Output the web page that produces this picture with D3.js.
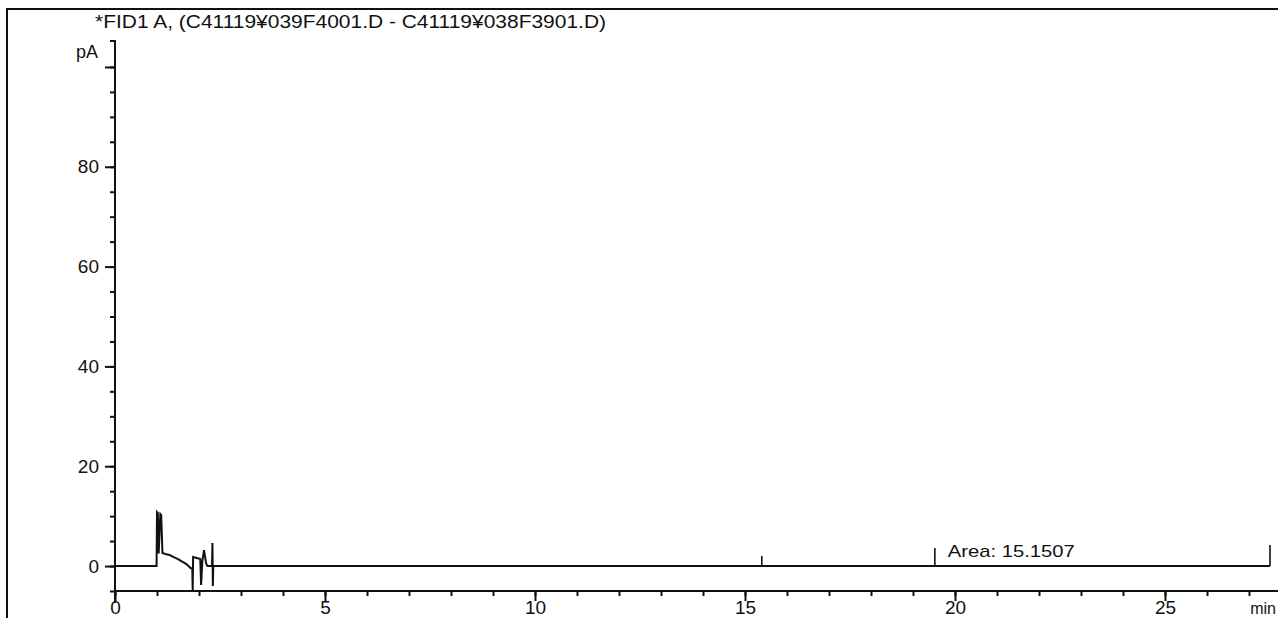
<!DOCTYPE html>
<html>
<head>
<meta charset="utf-8">
<script src="https://cdn.jsdelivr.net/npm/d3@7"></script>
<style>
  body { margin: 0; background: #fff; }
  svg { display: block; }
  text { font-family: "Liberation Sans", Arial, sans-serif; fill: #111; }
</style>
</head>
<body>
<svg id="chart" width="1278" height="618"></svg>
<script>
// chromatogram trace (min, pA)
var traceTime = [0, 0.99, 1.0, 1.02, 1.04, 1.08, 1.1, 1.13, 1.2, 1.3, 1.4, 1.5, 1.6, 1.7, 1.8, 1.84,
  1.85, 1.86, 1.95, 2.03, 2.05, 2.08, 2.12, 2.17, 2.2, 2.31, 2.32, 2.33, 2.34, 27.5];
var traceSignal = [0, 0, 10.8, 10.6, 2.5, 10.4, 10.2, 2.6, 2.4, 2.2, 1.8, 1.4, 0.9, 0.4, -0.4, -0.5,
  -5, 1.8, 1.6, 1.4, -3.8, 1.0, 3.2, 0.5, 0, 0, 4.6, -4, 0, 0];

// integration marks
var markTimes = [15.4, 19.52, 27.5];
var markHeights = [2.0, 3.6, 4.2];

var yMajor = [0, 20, 40, 60, 80, 100];
var yLabels = ["0", "20", "40", "60", "80", ""];
var xMajor = [0, 5, 10, 15, 20, 25];

var title = "*FID1 A,  (C41119\u00a5039F4001.D - C41119\u00a5038F3901.D)";
var areaText = "Area: 15.1507";

var svg = d3.select("#chart");

var x = d3.scaleLinear().domain([0, 27.7]).range([115, 1278.4]);
var y = d3.scaleLinear().domain([-5, 105.2]).range([591, 41]);

// page frame
svg.append("path")
  .attr("d", "M7,618 V9 H1278")
  .attr("fill", "none").attr("stroke", "#111").attr("stroke-width", 2);

svg.append("text")
  .attr("x", 95).attr("y", 28)
  .attr("font-size", 19)
  .attr("textLength", 511).attr("lengthAdjust", "spacingAndGlyphs")
  .text(title);

// y axis
var yAxis = svg.append("g").attr("transform", "translate(115,0)");
yAxis.call(d3.axisLeft(y).tickValues(d3.range(-5, 105, 5)).tickSize(5).tickFormat(""));
yAxis.append("g").call(d3.axisLeft(y).tickValues(yMajor).tickSize(10)
  .tickFormat(function(d, i) { return yLabels[i]; }));
yAxis.selectAll(".domain").remove();
yAxis.append("path")
  .attr("d", "M-5," + y(105.2) + "H0V603")
  .attr("fill", "none").attr("stroke", "#111").attr("stroke-width", 2);
yAxis.selectAll("line").attr("stroke", "#111").attr("stroke-width", 2);
yAxis.selectAll("text")
  .attr("font-size", 19).attr("x", -16)
  .style("font-family", "Liberation Sans, Arial, sans-serif").attr("fill", "#111");

svg.append("text")
  .attr("x", 98).attr("y", 58)
  .attr("text-anchor", "end").attr("font-size", 18)
  .text("pA");

// x axis
var xAxis = svg.append("g").attr("transform", "translate(0," + y(-5) + ")");
xAxis.call(d3.axisBottom(x).tickValues(d3.range(0, 28, 1)).tickSize(5).tickFormat(""));
xAxis.append("g").call(d3.axisBottom(x).tickValues(xMajor).tickSize(10).tickFormat(d3.format("d")));
xAxis.selectAll(".domain").remove();
xAxis.append("line")
  .attr("x1", x(0)).attr("x2", 1278)
  .attr("stroke", "#111").attr("stroke-width", 2);
xAxis.selectAll("line").attr("stroke", "#111").attr("stroke-width", 2);
xAxis.selectAll("text")
  .attr("font-size", 19).attr("y", 10)
  .style("font-family", "Liberation Sans, Arial, sans-serif").attr("fill", "#111");

svg.append("text")
  .attr("x", 1276).attr("y", 614)
  .attr("text-anchor", "end")
  .attr("font-size", 16)
  .text("min");

// trace
var line = d3.line()
  .x(function(d, i) { return x(traceTime[i]); })
  .y(function(d) { return y(d); });

svg.append("path")
  .datum(traceSignal)
  .attr("d", line)
  .attr("fill", "none")
  .attr("stroke", "#111")
  .attr("stroke-width", 2);

// area marks
svg.selectAll(".mark")
  .data(markTimes)
  .enter()
  .append("line")
  .attr("class", "mark")
  .attr("x1", function(d) { return x(d); })
  .attr("x2", function(d) { return x(d); })
  .attr("y1", y(0))
  .attr("y2", function(d, i) { return y(markHeights[i]); })
  .attr("stroke", "#111")
  .attr("stroke-width", 1.6);

svg.append("text")
  .attr("x", x(markTimes[1]) + 13).attr("y", y(1.8))
  .attr("font-size", 17)
  .attr("textLength", 127).attr("lengthAdjust", "spacingAndGlyphs")
  .text(areaText);
</script>
</body>
</html>
